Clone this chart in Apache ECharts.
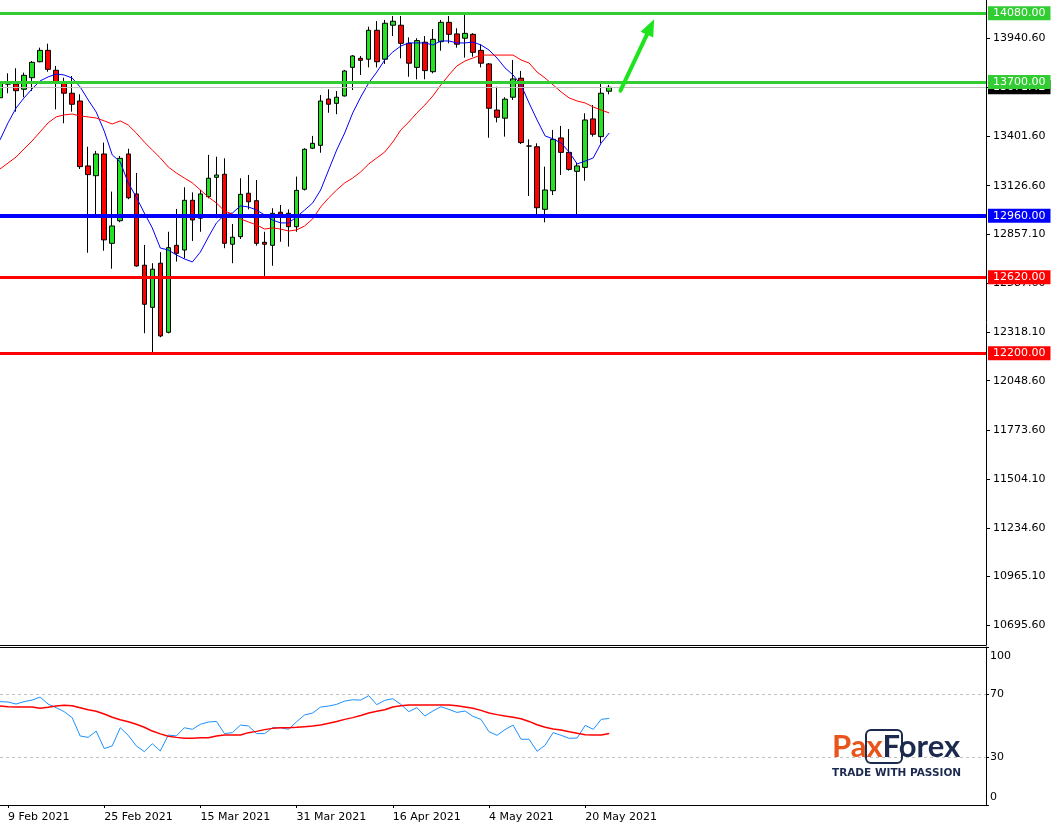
<!DOCTYPE html>
<html><head><meta charset="utf-8">
<script src="https://cdn.jsdelivr.net/npm/echarts@6/dist/echarts.min.js"></script>
<style>html,body{margin:0;padding:0;background:#fff}#c{width:1055px;height:823px}</style>
</head><body><div id="c"></div><script>
// ---- data ----
const dates = ['8 Feb 2021','9 Feb 2021','10 Feb 2021','11 Feb 2021','12 Feb 2021','15 Feb 2021','16 Feb 2021','17 Feb 2021','18 Feb 2021','19 Feb 2021','22 Feb 2021','23 Feb 2021','24 Feb 2021','25 Feb 2021','26 Feb 2021',
'1 Mar 2021','2 Mar 2021','3 Mar 2021','4 Mar 2021','5 Mar 2021','8 Mar 2021','9 Mar 2021','10 Mar 2021','11 Mar 2021','12 Mar 2021','15 Mar 2021','16 Mar 2021','17 Mar 2021','18 Mar 2021','19 Mar 2021','22 Mar 2021','23 Mar 2021','24 Mar 2021','25 Mar 2021','26 Mar 2021','29 Mar 2021','30 Mar 2021','31 Mar 2021',
'1 Apr 2021','2 Apr 2021','5 Apr 2021','6 Apr 2021','7 Apr 2021','8 Apr 2021','9 Apr 2021','12 Apr 2021','13 Apr 2021','14 Apr 2021','15 Apr 2021','16 Apr 2021','19 Apr 2021','20 Apr 2021','21 Apr 2021','22 Apr 2021','23 Apr 2021','26 Apr 2021','27 Apr 2021','28 Apr 2021','29 Apr 2021','30 Apr 2021',
'3 May 2021','4 May 2021','5 May 2021','6 May 2021','7 May 2021','10 May 2021','11 May 2021','12 May 2021','13 May 2021','14 May 2021','17 May 2021','18 May 2021','19 May 2021','20 May 2021','21 May 2021','24 May 2021','25 May 2021'];
const shownDates = ['9 Feb 2021','25 Feb 2021','15 Mar 2021','31 Mar 2021','16 Apr 2021','4 May 2021','20 May 2021'];
const futureSlots = 47;

const open = [13613,13689,13689,13660,13724,13812,13875,13765,13693,13638,
13595,13236,13182,13302,12808,12933,13302,13081,12687,12454,
12698,12316,12797,12771,13046,12947,13066,13173,13190,12803,
12845,13085,13044,12814,12797,12980,12974,12900,13107,13334,
13350,13606,13582,13623,13781,13831,13826,13986,13826,14014,
14014,13914,13781,13920,13757,13923,14030,13966,13942,13964,
13875,13800,13545,13500,13616,13721,13346,13342,12996,13099,
13391,13311,13206,13228,13496,13398,13649];
const close = [13696,13689,13652,13737,13809,13875,13770,13702,13638,13577,
13232,13188,13302,12827,12904,13278,13060,12683,12471,12665,
12296,12784,12753,13046,12937,13081,13168,13186,12808,12842,
13079,13038,12808,12803,12974,12969,12900,13101,13328,13361,
13595,13577,13616,13761,13844,13820,13986,13812,14025,14036,
13914,13804,13929,13763,13936,14030,13964,13909,13969,13864,
13804,13555,13505,13605,13717,13365,13346,13005,13103,13383,
13311,13217,13236,13490,13411,13638,13671];
const low = [13600,13638,13536,13616,13650,13809,13757,13549,13472,13536,
13219,12756,12965,12767,12668,12925,13052,12679,12311,12206,
12289,12310,12707,12725,12821,12872,13057,12947,12781,12698,
12832,12996,12795,12628,12684,12817,12790,12872,13100,13330,
13309,13530,13522,13620,13656,13739,13781,13781,13800,13954,
13831,13729,13715,13715,13748,13873,13914,13890,13835,13840,
13781,13392,13477,13398,13601,13357,13070,12965,12924,13075,
13186,13210,12965,13154,13398,13361,13632];
const high = [13720,13748,13776,13752,13816,13890,13912,13789,13724,13733,
13632,13342,13319,13365,13094,13291,13331,13197,12799,12698,
12759,12872,12998,13118,13090,13103,13297,13287,13278,12915,
13168,13186,13158,12872,13002,13020,12996,13177,13334,13402,
13628,13660,13650,13767,13849,13844,14006,14037,14043,14065,
14065,13947,13942,13954,13993,14043,14065,13997,14071,13970,
13909,13805,13674,13616,13822,13761,13383,13361,13232,13435,
13457,13440,13254,13527,13573,13689,13684];

const maFast = [13380,13474,13556,13612,13662,13706,13728,13744,13739,13722,
13673,13601,13534,13429,13297,13258,13142,13064,12976,12893,
12782,12771,12744,12722,12705,12760,12843,12921,12965,12976,
13015,13009,12992,12965,12937,12921,12921,12954,12992,13031,
13103,13214,13324,13418,13529,13617,13695,13755,13822,13866,
13899,13916,13916,13916,13905,13927,13927,13916,13916,13921,
13905,13877,13833,13778,13739,13684,13584,13490,13402,13385,
13363,13313,13247,13263,13280,13363,13418];
const maSlow = [13219,13252,13285,13330,13374,13424,13474,13507,13518,13523,
13512,13507,13501,13485,13468,13485,13462,13418,13368,13324,
13280,13230,13197,13169,13142,13103,13064,13031,12987,12970,
12943,12926,12910,12887,12893,12887,12876,12882,12904,12943,
13009,13059,13103,13142,13169,13203,13247,13280,13313,13368,
13435,13479,13529,13573,13623,13684,13739,13789,13816,13833,
13849,13849,13849,13849,13849,13822,13805,13755,13722,13684,
13645,13612,13595,13584,13562,13545,13529];

const rsi = [65.4,65.2,63.9,65.4,66.4,68.3,63.9,61.6,59.1,55.3,
43.7,42.8,46.8,35.7,37.4,48.9,44.1,37.4,33.8,38.8,
34.2,44.3,43.7,48.9,47.9,51.1,52.5,52.9,45.2,45.8,
50.6,50.0,45.2,45.2,48.9,48.9,47.9,52.7,57.0,58.2,
62.0,62.6,63.7,65.8,66.6,66.4,69.2,63.5,66.2,67.3,
63.7,59.1,61.6,56.3,59.5,62.2,60.5,58.6,59.5,56.1,
54.2,46.4,44.1,47.7,50.6,41.6,41.6,34.0,37.8,45.8,
44.1,42.2,42.4,50.4,47.9,54.2,54.8];
const rsiSignal = [62.6,62.2,62.0,62.0,62.0,61.2,61.8,62.6,63.1,62.8,
61.6,60.3,59.3,57.6,55.5,54.0,52.7,51.1,49.2,46.8,
45.0,43.5,42.8,42.2,42.2,42.6,42.6,43.7,44.3,44.3,
44.3,45.8,46.6,47.7,48.5,48.9,48.9,49.2,49.6,50.0,
50.6,51.7,52.9,54.2,55.3,56.7,58.2,59.3,60.3,62.0,
62.8,63.3,63.3,63.3,63.3,63.3,63.3,62.8,62.0,61.2,
59.9,58.2,57.2,56.3,55.5,54.6,52.9,50.8,49.2,48.1,
47.5,46.4,45.4,44.5,44.3,44.3,45.2];

const priceTicks = [10695.6,10965.1,11234.6,11504.1,11773.6,12048.6,12318.1,12587.6,12857.1,13126.6,13401.6,13671.1,13940.6];
const rsiTicks = [0,30,70,100];
const rsiLevels = [30,70];
const levelValues = [13671.42,14080,13700,12960,12620,12200];
const levelColors = ['#000000','#32cd32','#32cd32','#0000ff','#ff0000','#ff0000'];
const arrowFrom = [77.4,13652];
const arrowTo = [81.6,14047];

// ---- build ----
const cats = dates.concat(Array.from({length: futureSlots}, (_, i) => '+' + (i + 1)));
const candles = open.map((o, i) => [o, close[i], low[i], high[i]]);
const FONT = 'DejaVu Sans';
const shownIdx = new Set(shownDates.map(d => cats.indexOf(d)));

const levelLines = levelValues.map((v, i) => ({
  yAxis: v,
  lineStyle: {color: i === 0 ? '#c0c0c0' : levelColors[i], width: i === 0 ? 1 : (i === 3 ? 4 : 3), type: 'solid'},
  label: {backgroundColor: levelColors[i]}
}));

const chart = echarts.init(document.getElementById('c'), null, {renderer: 'canvas'});
const option = {
  animation: false,
  backgroundColor: '#ffffff',
  grid: [
    {left: 0, top: 0, width: 986, height: 645},
    {left: 0, top: 647, width: 986, height: 158}
  ],
  xAxis: [
    {type: 'category', gridIndex: 0, data: cats, boundaryGap: false,
     axisLine: {show: true, lineStyle: {color: '#000', width: 1}}, axisTick: {show: false}, axisLabel: {show: false}, splitLine: {show: false}},
    {type: 'category', gridIndex: 1, data: cats, boundaryGap: false,
     axisLine: {show: true, lineStyle: {color: '#000', width: 1}},
     axisTick: {show: true, length: 3, interval: (i) => shownIdx.has(i), lineStyle: {color: '#000'}},
     axisLabel: {show: true, interval: (i) => shownIdx.has(i), align: 'left', margin: 7, color: '#000', fontFamily: FONT, fontSize: 11},
     splitLine: {show: false}},
    {type: 'category', gridIndex: 1, data: cats, boundaryGap: false, position: 'top',
     axisLine: {show: true, lineStyle: {color: '#000', width: 1}}, axisTick: {show: false}, axisLabel: {show: false}, splitLine: {show: false}}
  ],
  yAxis: [
    {type: 'value', gridIndex: 0, position: 'right', min: 10587, max: 14153.5, scale: true,
     axisLine: {show: true, lineStyle: {color: '#000'}},
     axisTick: {show: true, length: 4, customValues: priceTicks, lineStyle: {color: '#000'}},
     axisLabel: {show: true, customValues: priceTicks, margin: 7, color: '#000', fontFamily: FONT, fontSize: 11, formatter: v => v.toFixed(2)},
     splitLine: {show: false}},
    {type: 'value', gridIndex: 1, position: 'right', min: 0, max: 100,
     axisLine: {show: true, lineStyle: {color: '#000'}},
     axisTick: {show: true, length: 3, customValues: rsiTicks, lineStyle: {color: '#000'}},
     axisLabel: {show: true, customValues: rsiTicks, margin: 4, color: '#000', fontFamily: FONT, fontSize: 11,
       formatter: v => v === 100 ? '{t|100}' : (v === 0 ? '{b|0}' : String(v)),
       rich: {t: {padding: [19, 0, 0, 0], fontFamily: FONT, fontSize: 11, color: '#000'},
              b: {padding: [0, 0, 15, 0], fontFamily: FONT, fontSize: 11, color: '#000'}}},
     splitLine: {show: false}}
  ],
  series: [
    {type: 'candlestick', xAxisIndex: 0, yAxisIndex: 0, data: candles, barWidth: 5,
     itemStyle: {color: '#22e222', color0: '#ff0000', borderColor: '#000', borderColor0: '#000', borderWidth: 1},
     markLine: {symbol: 'none', silent: true, animation: false,
       label: {show: true, position: 'end', distance: 2, formatter: p => p.value.toFixed(2), color: '#fff',
               fontFamily: FONT, fontSize: 11, padding: [2, 5, 1, 5]},
       data: levelLines}},
    {type: 'line', xAxisIndex: 0, yAxisIndex: 0, data: maFast, showSymbol: false, smooth: false,
     lineStyle: {color: '#0000ff', width: 1}, z: 3},
    {type: 'line', xAxisIndex: 0, yAxisIndex: 0, data: maSlow, showSymbol: false,
     lineStyle: {color: '#ff0000', width: 1}, z: 3},
    {type: 'line', xAxisIndex: 1, yAxisIndex: 1, data: rsi, showSymbol: false,
     lineStyle: {color: '#1e90ff', width: 1},
     markLine: {symbol: 'none', silent: true, label: {show: false},
       lineStyle: {color: '#c0c0c0', type: [3, 3], width: 1},
       data: rsiLevels.map(v => ({yAxis: v}))}},
    {type: 'line', xAxisIndex: 1, yAxisIndex: 1, data: rsiSignal, showSymbol: false,
     lineStyle: {color: '#ff0000', width: 1.5}}
  ],
  graphic: [
    {type: 'text', left: 832, top: 731, z: 10,
     style: {text: '{a|Pax}{b|Forex}', font: 'bold 31px Lato',
       rich: {a: {fill: '#e8541c', font: 'bold 31px Lato'}, b: {fill: '#1b2a4e', font: 'bold 31px Lato'}}}},
    {type: 'rect', shape: {x: 866, y: 730, width: 36, height: 33, r: 5}, z: 10,
     style: {fill: 'none', stroke: '#1b2a4e', lineWidth: 2}},
    {type: 'text', left: 832, top: 768, z: 10,
     style: {text: 'TRADE WITH PASSION', font: 'bold 10.5px "DejaVu Sans"', fill: '#1b2a4e'}}
  ]
};
chart.setOption(option);

function toPx(idx, price) {
  const i0 = Math.floor(idx), t = idx - i0;
  const a = chart.convertToPixel({gridIndex: 0}, [i0, price]);
  const b = chart.convertToPixel({gridIndex: 0}, [i0 + 1, price]);
  return [a[0] + (b[0] - a[0]) * t, a[1]];
}
const p1 = toPx(arrowFrom[0], arrowFrom[1]);
const p2 = toPx(arrowTo[0], arrowTo[1]);
const dx = p2[0] - p1[0], dy = p2[1] - p1[1], L = Math.hypot(dx, dy), ux = dx / L, uy = dy / L;
const headLen = 17, headW = 7;
const bx = p2[0] - ux * headLen, by = p2[1] - uy * headLen;
chart.setOption({graphic: option.graphic.concat([
  {type: 'line', z: 20, shape: {x1: p1[0], y1: p1[1], x2: bx + ux * 2, y2: by + uy * 2}, style: {stroke: '#1ee41e', lineWidth: 4, lineCap: 'round'}},
  {type: 'polygon', z: 20, shape: {points: [[p2[0], p2[1]], [bx - uy * headW, by + ux * headW], [bx + uy * headW, by - ux * headW]]}, style: {fill: '#1ee41e'}}
])});
</script></body></html>
